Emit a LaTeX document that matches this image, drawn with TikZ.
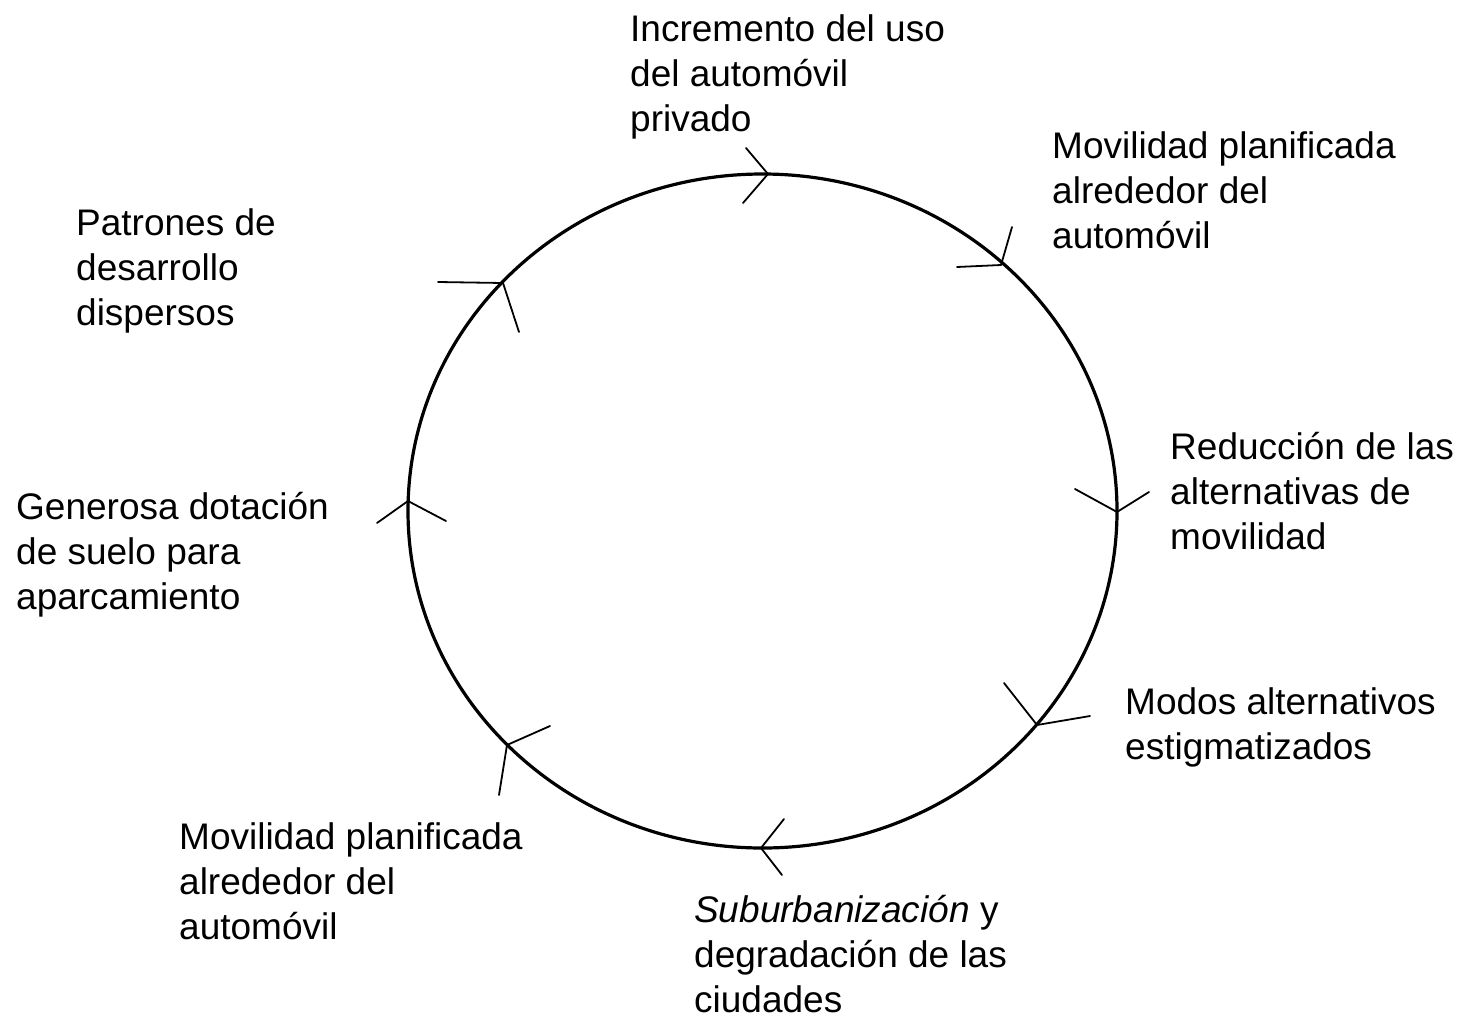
\documentclass[tikz,border=0pt]{standalone}
\usepackage{fontspec}
\setmainfont{Liberation Sans}
\begin{document}
\begin{tikzpicture}[x=1pt,y=-1pt,
  lbl/.style={anchor=base west,inner sep=0pt,align=left,font=\fontsize{37}{45}\selectfont},
  ring/.style={line width=3.2pt},
  vhead/.style={line width=1.8pt,line cap=round,line join=round}]
\useasboundingbox[fill=white] (0,0) rectangle (1463,1018);
\draw[ring] (762.5,511) ellipse [x radius=354.5, y radius=337];
% arrow heads (open V), clockwise
\coordinate (t1) at (768,174);
\draw[vhead] (746,148) -- (t1) -- (743,203);
\coordinate (t2) at (1001,265);
\draw[vhead] (957,267) -- (t2) -- (1012,227);
\coordinate (t3) at (1117,512);
\draw[vhead] (1075,489) -- (t3) -- (1149,492);
\coordinate (t4) at (1037,725);
\draw[vhead] (1004,683) -- (t4) -- (1090,716);
\coordinate (t5) at (761,848);
\draw[vhead] (784,819) -- (t5) -- (782,875);
\coordinate (t6) at (507,745);
\draw[vhead] (550,726) -- (t6) -- (499,795);
\coordinate (t7) at (408,501);
\draw[vhead] (377,523) -- (t7) -- (446,521);
\coordinate (t8) at (503,283);
\draw[vhead] (438,282) -- (t8) -- (519,332);
% labels (anchored at the baseline of their last line)
\node[lbl] (l1) at (630,131) {Incremento del uso\\del automóvil\\privado};
\node[lbl] (l2) at (1052,248) {Movilidad planificada\\alrededor del\\automóvil};
\node[lbl] (l3) at (1170,549) {Reducción de las\\alternativas de\\movilidad};
\node[lbl] (l4) at (1125,759) {Modos alternativos\\estigmatizados};
\node[lbl] (l5) at (694,1012) {\textit{Suburbanización} y\\degradación de las\\ciudades};
\node[lbl] (l6) at (179,939) {Movilidad planificada\\alrededor del\\automóvil};
\node[lbl] (l7) at (16,609) {Generosa dotación\\de suelo para\\aparcamiento};
\node[lbl] (l8) at (76,325) {Patrones de\\desarrollo\\dispersos};
\end{tikzpicture}
\end{document}
